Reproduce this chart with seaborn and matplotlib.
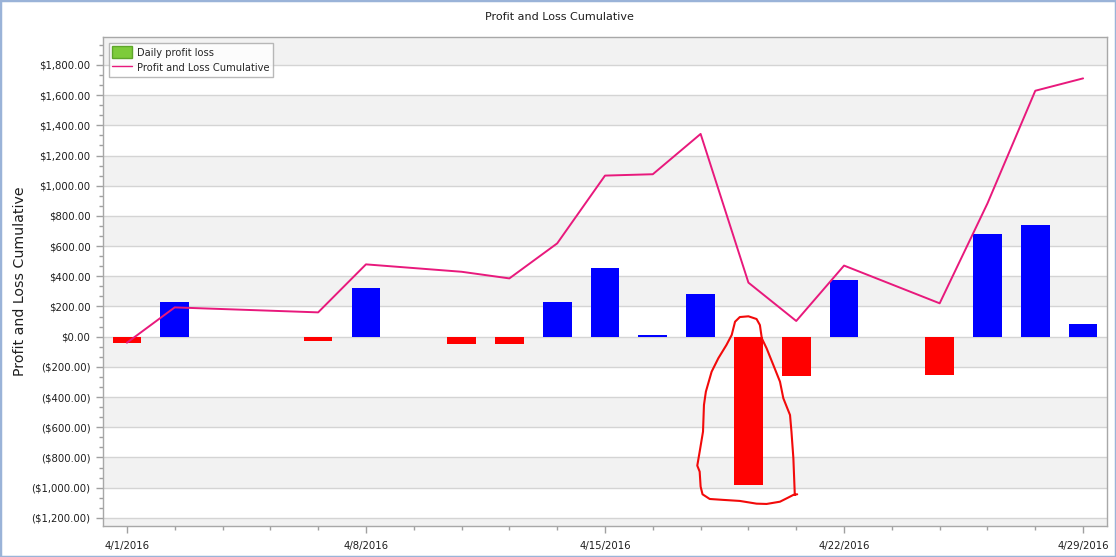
import pandas as pd
import matplotlib.pyplot as plt
import matplotlib.ticker as mticker
from matplotlib.patches import Patch, Rectangle
from matplotlib.lines import Line2D
import seaborn as sns

sns.set_theme(style="white")
plt.rcParams['font.family'] = ['DejaVu Sans']

# trading days of April 2016 (one slot per business day)
dias = ['4/1/2016', '4/4/2016', '4/5/2016', '4/6/2016', '4/7/2016', '4/8/2016',
        '4/11/2016', '4/12/2016', '4/13/2016', '4/14/2016', '4/15/2016',
        '4/18/2016', '4/19/2016', '4/20/2016', '4/21/2016', '4/22/2016',
        '4/25/2016', '4/26/2016', '4/27/2016', '4/28/2016', '4/29/2016']
# days that have a trade (slot index in dias)
slots = [0, 1, 4, 5, 7, 8, 9, 10, 11, 12, 13, 14, 15, 17, 18, 19, 20]
lucro_diario = [-40, 230, -27, 322, -46, -46, 230, 455, 9, 283, -985, -258,
                375, -252, 680, 740, 84]
lucro_acumulado = [-40, 194, 161, 479, 430, 386, 618, 1067, 1076, 1343, 358,
                   104, 471, 221, 883, 1629, 1711]
rotulos_x = ['4/1/2016', '4/8/2016', '4/15/2016', '4/22/2016', '4/29/2016']

# rabisco vermelho feito a mao em volta da maior perda (slot, valor)
rabisco_x = [14.02, 13.94, 13.83, 13.66, 13.38, 13.17, 12.82, 12.47, 12.19,
             12.04, 12.00, 11.98, 11.93, 11.98, 12.05, 12.07, 12.11, 12.23,
             12.37, 12.54, 12.65, 12.72, 12.82, 13.00, 13.17, 13.24, 13.28,
             13.38, 13.52, 13.66, 13.73, 13.87, 13.90, 13.94, 13.97]
rabisco_y = [-1044, -1048, -1066, -1093, -1108, -1106, -1088, -1081, -1075,
             -1044, -993, -894, -854, -762, -629, -452, -364, -232, -143, -55,
             11, 99, 130, 135, 117, 77, -11, -77, -187, -298, -408, -519,
             -629, -805, -1048]

COR_LINHA = '#E8197C'


def moeda(v, pos=None):
    txt = f"${abs(v):,.2f}"
    return f"({txt})" if v < 0 else txt


def gerar_grafico():
    df = pd.DataFrame({'slot': slots, 'valor': lucro_diario,
                       'acumulado': lucro_acumulado})
    df['sinal'] = ['pos' if v >= 0 else 'neg' for v in df['valor']]

    fig = plt.figure(figsize=(11.16, 5.57), dpi=100)
    ax = fig.add_axes([103 / 1116, 31 / 557, 1004 / 1116, 489 / 557])

    # faixas alternadas do fundo
    for y0 in range(-1400, 2200, 400):
        ax.axhspan(y0, y0 + 200, color='#F2F2F2', zorder=0, lw=0)
    for y in range(-1200, 2000, 200):
        ax.axhline(y, color='#D4D4D4', lw=1, zorder=0.5)

    sns.barplot(data=df, x='slot', y='valor', hue='sinal',
                palette={'pos': '#0000FF', 'neg': '#FF0000'},
                native_scale=True, dodge=False, width=0.6, saturation=1,
                legend=False, ax=ax, zorder=2, linewidth=0, edgecolor='none')
    sns.lineplot(data=df, x='slot', y='acumulado', color=COR_LINHA, lw=1.4,
                 ax=ax, zorder=3)
    ax.plot(rabisco_x, rabisco_y, color='#F20A0A', lw=1.5, zorder=4,
            solid_joinstyle='round', solid_capstyle='round')

    ax.set_xlim(-0.5, 20.5)
    ax.set_ylim(-1254, 1985)
    ax.set_xticks([dias.index(r) for r in rotulos_x])
    ax.set_xticklabels(rotulos_x)
    ax.xaxis.set_minor_locator(mticker.MultipleLocator(1))
    ax.yaxis.set_major_locator(mticker.MultipleLocator(200))
    ax.yaxis.set_minor_locator(mticker.AutoMinorLocator(3))
    ax.yaxis.set_major_formatter(mticker.FuncFormatter(moeda))

    ax.tick_params(axis='both', which='major', length=5, width=1,
                   color='#A0A0A0', labelsize=7.3, labelcolor='#1E1E1E',
                   bottom=True, left=True)
    ax.tick_params(axis='both', which='minor', length=3, width=1,
                   color='#A0A0A0', bottom=True, left=True)
    ax.tick_params(axis='x', pad=6)
    ax.tick_params(axis='y', pad=4)

    for s in ax.spines.values():
        s.set_color('#A8A8A8')
        s.set_linewidth(1)

    ax.set_xlabel('')
    ax.set_ylabel('Profit and Loss Cumulative', fontsize=10.2, color='#1E1E1E')
    ax.yaxis.set_label_coords(-0.076, 0.5)
    fig.text(0.501, 0.97, 'Profit and Loss Cumulative', ha='center', va='center',
             fontsize=8, color='#1E1E1E')

    handles = [Patch(facecolor='#7DCB3A', edgecolor='#5EA52A'),
               Line2D([], [], color=COR_LINHA, lw=1)]
    leg = ax.legend(handles, ['Daily profit loss', 'Profit and Loss Cumulative'],
                    loc='upper left', fontsize=7.1, frameon=True, fancybox=False,
                    borderaxespad=0.6, handlelength=2.0, handleheight=1.5,
                    handletextpad=0.5, borderpad=0.35, labelspacing=0.35)
    leg.get_frame().set_edgecolor('#A8A8A8')
    leg.get_frame().set_linewidth(1)
    leg.set_zorder(5)

    # borda da janela
    fig.patches.append(Rectangle((0, 0), 1, 1, transform=fig.transFigure,
                                 fill=False, edgecolor='#9AB3D8', lw=2.5))

    fig.savefig('out.png', dpi=100)
    plt.close(fig)


if __name__ == "__main__":
    gerar_grafico()
